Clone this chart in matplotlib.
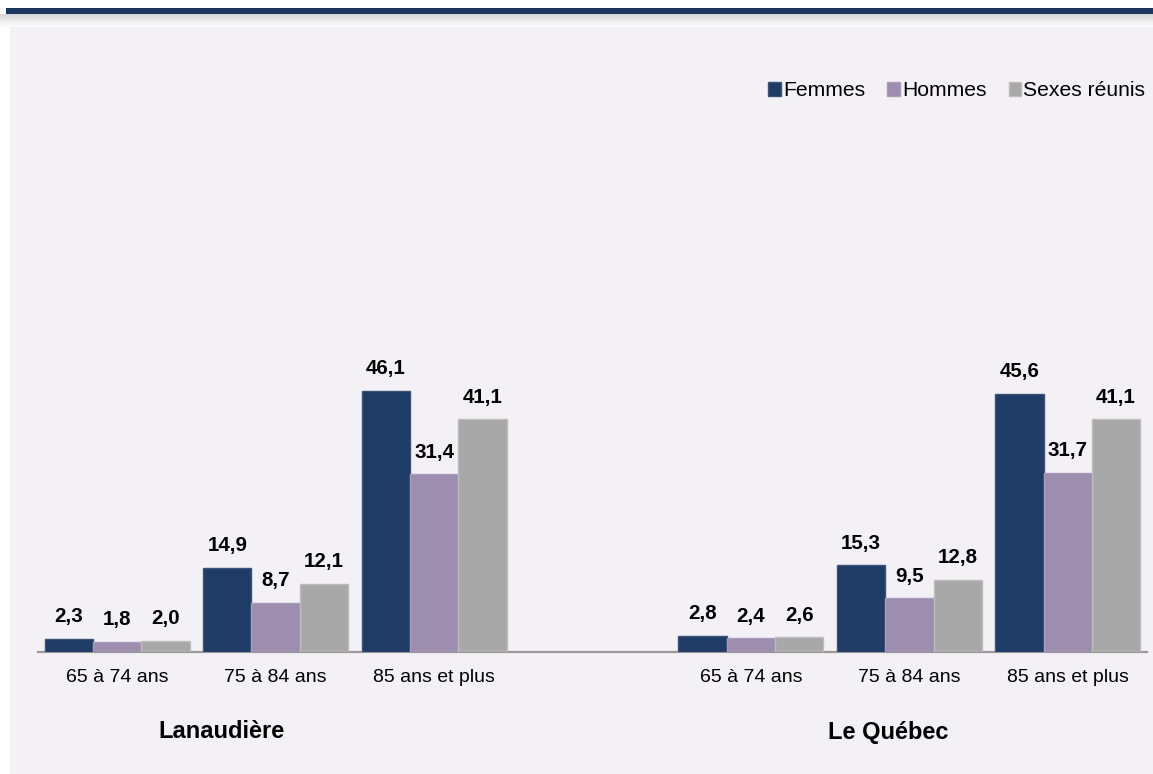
import matplotlib.pyplot as plt
from matplotlib.patches import Rectangle
import numpy as np

plt.rcParams['font.family'] = ['Liberation Sans', 'DejaVu Sans']

categories = ["65 à 74 ans", "75 à 84 ans", "85 ans et plus"]
regions = ["Lanaudière", "Le Québec"]
series = ["Femmes", "Hommes", "Sexes réunis"]
femmes = [2.3, 14.9, 46.1, 2.8, 15.3, 45.6]
hommes = [1.8, 8.7, 31.4, 2.4, 9.5, 31.7]
sexes = [2.0, 12.1, 41.1, 2.6, 12.8, 41.1]
colors = ['#1f3c66', '#9d8daf', '#a8a8a8']
edges = ['#3a5478', '#a99cb9', '#bdbdbd']

W, H = 1153, 774
fig = plt.figure(figsize=(W / 100, H / 100), dpi=100)
fig.patch.set_facecolor('white')

# background panel, top band and its shadow
bg = '#f3f1f6'
fig.patches.append(Rectangle((10 / W, 0), 1, (H - 27) / H, transform=fig.transFigure,
                             facecolor=bg, edgecolor='none', zorder=0))
for k in range(14):
    a = 0.35 * (1 - k / 14) ** 1.3
    fig.patches.append(Rectangle((0, (H - 15 - k) / H), 1, 1 / H, transform=fig.transFigure,
                                 facecolor='#8c8c8c', alpha=a, edgecolor='none', zorder=1))
fig.patches.append(Rectangle((6 / W, (H - 14) / H), 1, 6 / H, transform=fig.transFigure,
                             facecolor='#1b365f', edgecolor='none', zorder=2))

# axes: x from 38 to 1147 px, baseline at y=652 px, 0..100 over 566 px
ax = fig.add_axes([38 / W, (H - 652) / H, (1147 - 38) / W, 566 / H])
ax.set_zorder(5)
ax.set_facecolor('none')
pos = np.array([0, 1, 2, 4, 5, 6])
bw = 0.305
for i, (vals, c, ec) in enumerate(zip([femmes, hommes, sexes], colors, edges)):
    xs = pos + (i - 1) * bw
    ax.bar(xs, vals, width=bw, color=c, edgecolor=ec, linewidth=1, label=series[i], zorder=3)
    for x, v in zip(xs, vals):
        ax.annotate(f"{v:.1f}".replace('.', ','), (x, v), xytext=(0, 12),
                    textcoords='offset points', ha='center', va='baseline',
                    fontsize=14.8, fontweight='bold', color='black')

ax.set_xlim(-0.5, 6.5)
ax.set_ylim(0, 100)
ax.set_xticks(pos)
ax.set_xticklabels(categories * 2, fontsize=14)
ax.tick_params(axis='x', length=0, pad=12)
ax.set_yticks([])
for s in ['top', 'right', 'left']:
    ax.spines[s].set_visible(False)
ax.spines['bottom'].set_color('#999999')
ax.spines['bottom'].set_linewidth(1.6)

fig.text(221 / W, 1 - 732 / H, regions[0], ha='center', va='center',
         fontsize=17, fontweight='bold')
fig.text(888 / W, 1 - 732 / H, regions[1], ha='center', va='center',
         fontsize=17, fontweight='bold')

fig.legend(loc='center right', bbox_to_anchor=(1156 / W, 1 - 91 / H), ncol=3,
           frameon=False, fontsize=15.2, handlelength=0.6, handleheight=0.6,
           handletextpad=0.1, columnspacing=1.05, borderpad=0)

fig.savefig('out.png', dpi=100, facecolor=fig.get_facecolor())
